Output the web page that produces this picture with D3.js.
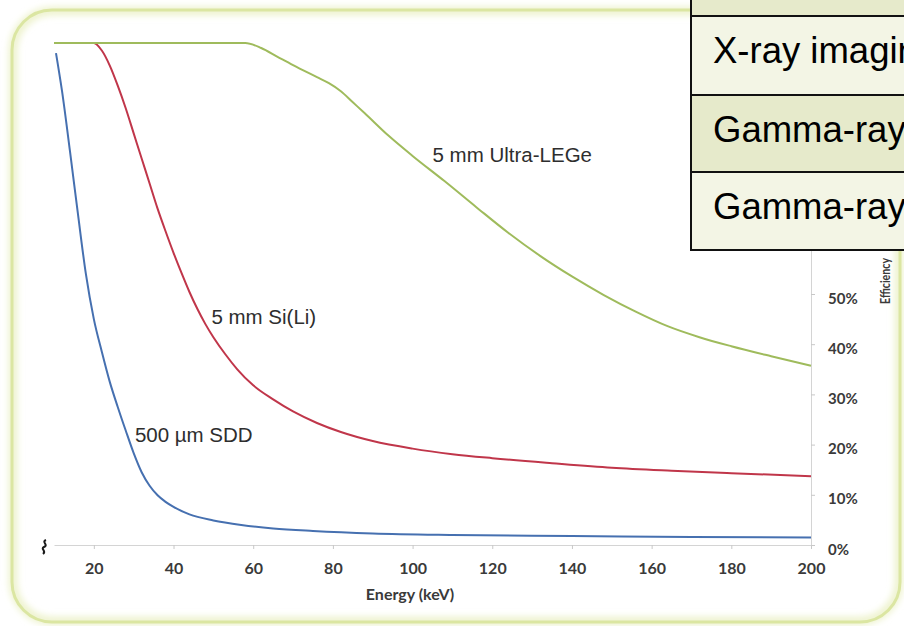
<!DOCTYPE html>
<html>
<head>
<meta charset="utf-8">
<script src="https://cdn.jsdelivr.net/npm/d3@7"></script>
<style>
  html, body { margin: 0; padding: 0; background: #ffffff; }
  svg { display: block; }
</style>
</head>
<body>
<svg id="chart" width="904" height="626"></svg>
<script>
// Detector efficiency versus photon energy (keV, %)
const sddEnergy   = [10.5, 12, 14, 16, 18, 20, 22, 24, 26, 28, 30, 32, 34, 36, 38, 40, 44, 50, 57, 65, 75, 90, 110, 140, 170, 200];
const sddEff      = [98, 90.5, 78.5, 66, 54, 45, 38.5, 32.5, 27.5, 22.8, 18.3, 14.5, 11.8, 9.9, 8.6, 7.6, 6.1, 4.9, 4, 3.3, 2.8, 2.3, 2, 1.8, 1.6, 1.5];

const siliEnergy  = [10, 20, 22, 24, 26, 28, 30, 32, 34, 36, 38, 40, 42, 44, 46, 48, 50, 53, 56, 60, 65, 70, 76, 82, 90, 100, 110, 120, 135, 150, 165, 180, 200];
const siliEff     = [100, 100, 98.5, 95.5, 91.5, 87, 82, 77, 72, 67, 62.5, 58.2, 54.2, 50.4, 47, 44, 41.4, 38, 35, 31.8, 29, 26.6, 24.3, 22.5, 20.7, 19.2, 18.1, 17.3, 16.3, 15.4, 14.8, 14.3, 13.7];

const legeEnergy  = [10, 58, 62, 66, 70, 76, 79, 82, 85, 88, 94, 100, 108, 116, 124, 132, 140, 148, 156, 164, 172, 180, 190, 200];
const legeEff     = [100, 100, 99, 97.3, 95.6, 93.2, 92, 90.4, 88.2, 86, 81.5, 77.5, 72.5, 67.3, 62.2, 57.6, 53.5, 49.8, 46.5, 43.6, 41.4, 39.6, 37.6, 35.7];

const seriesNames = ["500 µm SDD", "5 mm Si(Li)", "5 mm Ultra-LEGe"];
const xTicks = [20, 40, 60, 80, 100, 120, 140, 160, 180, 200];
const yTicks = [0, 10, 20, 30, 40, 50];
const tableRows = ["", "X-ray imaging", "Gamma-ray spectroscopy", "Gamma-ray imaging"];

const svg = d3.select("#chart");
const W = 904, H = 626;

// Rounded panel frame with a soft glow
const defs = svg.append("defs");
defs.append("filter").attr("id", "glow").attr("x", "-5%").attr("y", "-5%").attr("width", "110%").attr("height", "110%")
  .append("feGaussianBlur").attr("stdDeviation", 3);

svg.append("rect").attr("width", W).attr("height", H).attr("fill", "#ffffff");
svg.append("rect")
  .attr("x", 13).attr("y", 11).attr("width", 886).attr("height", 610).attr("rx", 40)
  .attr("fill", "none").attr("stroke", "#eef3cf").attr("stroke-width", 9).attr("filter", "url(#glow)");
svg.append("rect")
  .attr("x", 12).attr("y", 10).attr("width", 888).attr("height", 612).attr("rx", 40)
  .attr("fill", "none").attr("stroke", "#dbe6a2").attr("stroke-width", 3);

// Scales
const x = d3.scaleLinear().domain([10, 200]).range([54, 811]);
const y = d3.scaleLinear().domain([0, 100]).range([545, 43]);

const axisFont = "Lato, 'Open Sans', 'DejaVu Sans', sans-serif";

// X axis
const gx = svg.append("g").attr("transform", `translate(0,${y(0)})`)
  .call(d3.axisBottom(x).tickValues(xTicks).tickSize(4).tickSizeOuter(0).tickPadding(14));
gx.select(".domain").attr("stroke", "#d4d4d4");
gx.selectAll(".tick line").attr("stroke", "#c8c8c8");
gx.selectAll(".tick text")
  .attr("font-family", axisFont).attr("font-weight", 700).attr("font-size", 16).attr("fill", "#3a3a3a");

// Y axis on the right (its line runs the full 0–100 % range)
const gy = svg.append("g").attr("transform", `translate(${x(200)},0)`)
  .call(d3.axisRight(y).tickValues(yTicks).tickSize(4).tickSizeOuter(0).tickPadding(13).tickFormat(d => d + "%"));
gy.select(".domain").attr("stroke", "#d4d4d4");
gy.selectAll(".tick line").attr("stroke", "#c8c8c8");
gy.selectAll(".tick text")
  .attr("font-family", axisFont).attr("font-weight", 700).attr("font-size", 15).attr("fill", "#3a3a3a")
  .attr("dy", "0.6em");

// Axis titles
svg.append("text").attr("x", 410).attr("y", 600).attr("text-anchor", "middle")
  .attr("font-family", axisFont).attr("font-weight", 700).attr("font-size", 16).attr("fill", "#3a3a3a")
  .text("Energy (keV)");
svg.append("text").attr("transform", "translate(890,281) rotate(-90)").attr("text-anchor", "middle")
  .attr("font-family", axisFont).attr("font-weight", 700).attr("font-size", 13).attr("fill", "#3a3a3a")
  .attr("textLength", 46).attr("lengthAdjust", "spacingAndGlyphs")
  .text("Efficiency");

// Axis break mark at the left end of the energy axis
svg.append("path")
  .attr("d", "M46,540 C41,542 49,545 44,547 C40,549 47,551 43,554")
  .attr("fill", "none").attr("stroke", "#1a1a1a").attr("stroke-width", 2);

// Curves
const line = d3.line().x(d => x(d[0])).y(d => y(d[1])).curve(d3.curveMonotoneX);
const series = [
  { name: seriesNames[1], pts: d3.zip(siliEnergy, siliEff), color: "#c0364a" },
  { name: seriesNames[0], pts: d3.zip(sddEnergy, sddEff), color: "#4670b0" },
  { name: seriesNames[2], pts: d3.zip(legeEnergy, legeEff), color: "#9fbb5c" }
];
svg.append("g").selectAll("path").data(series).join("path")
  .attr("d", d => line(d.pts))
  .attr("fill", "none").attr("stroke", d => d.color).attr("stroke-width", 2)
  .attr("stroke-linejoin", "round");

// Curve labels
const labelFont = "'Liberation Sans', Arial, sans-serif";
const labels = [
  { text: seriesNames[2], e: 105, v: 76.2 },
  { text: seriesNames[1], e: 49.5, v: 44 },
  { text: seriesNames[0], e: 30.3, v: 20.5 }
];
svg.append("g").selectAll("text").data(labels).join("text")
  .attr("x", d => x(d.e)).attr("y", d => y(d.v))
  .attr("font-family", labelFont).attr("font-size", 20.5).attr("fill", "#2e2e2e")
  .text(d => d.text);

// Overlapping table panel in the upper right
const tbl = svg.append("g");
const rowTop = [-62, 16, 95, 172];
const rowFill = ["#e6eacb", "#f3f5e5", "#e6eacb", "#f3f5e5"];
tbl.selectAll("rect").data(tableRows).join("rect")
  .attr("x", 691).attr("y", (d, i) => rowTop[i]).attr("width", 260)
  .attr("height", (d, i) => i === 3 ? 250 - rowTop[i] : rowTop[i + 1] - rowTop[i])
  .attr("fill", (d, i) => rowFill[i]).attr("stroke", "#111").attr("stroke-width", 2);
tbl.selectAll("text").data(tableRows.filter(d => d)).join("text")
  .attr("x", 713).attr("y", (d, i) => rowTop[i + 1] + 47)
  .attr("font-family", labelFont).attr("font-size", 36.5).attr("fill", "#000")
  .text(d => d);
</script>
</body>
</html>
